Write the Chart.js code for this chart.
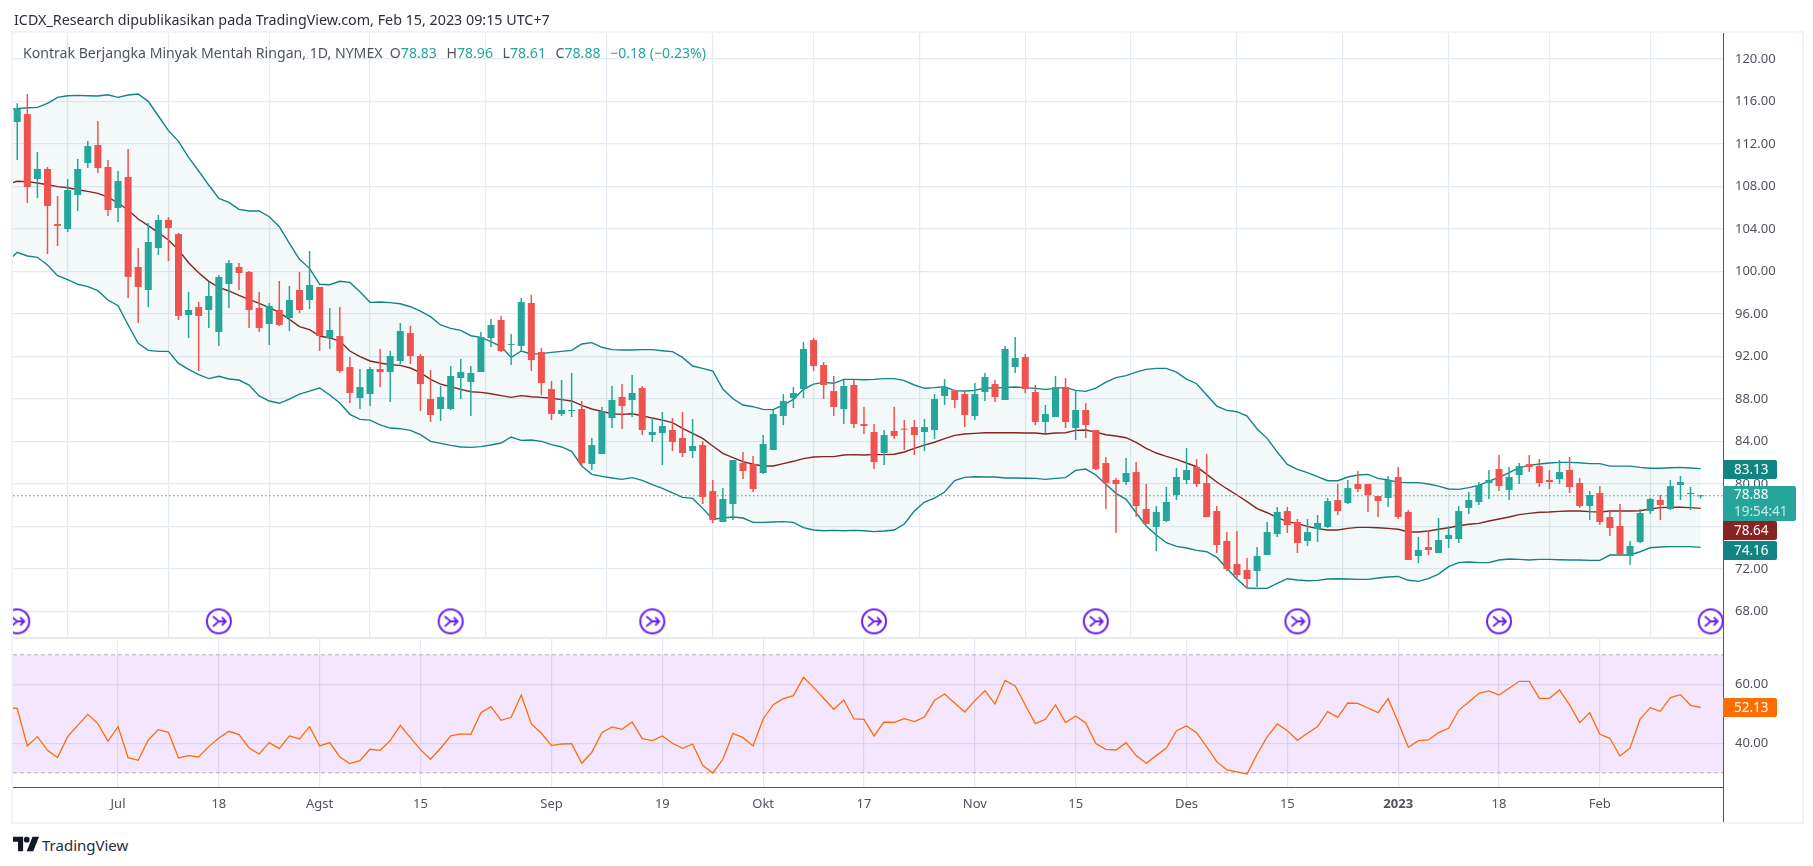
<!DOCTYPE html>
<html>
<head>
<meta charset="utf-8">
<title>Kontrak Berjangka Minyak Mentah Ringan</title>
<script src="https://cdn.jsdelivr.net/npm/chart.js@4"></script>
<style>
    html, body { margin: 0; padding: 0; background: #fff; overflow: hidden; }
    body { width: 1813px; height: 866px; position: relative; font-family: "Noto Sans", sans-serif; color: #50535e; }
    canvas { position: absolute; left: 0; }
    #myGraf { top: 0; }
    #myRsi { top: 638px; }
    .frame { position: absolute; left: 11px; top: 31px; width: 1789px; height: 789px; border: 2px solid #f0f3fa; }
    .divider { position: absolute; left: 13px; top: 637px; width: 1710px; height: 2px; background: #e6e9f0; }
    .rule { position: absolute; left: 1723px; top: 33px; width: 1px; height: 789px; background: #50535e; }
    #titre { position: absolute; left: 14px; top: 9px; font-size: 14.3px; line-height: 22px; color: #2a2e39; white-space: nowrap; }
    #legende { position: absolute; left: 23px; top: 43px; font-size: 14.1px; line-height: 20px; white-space: nowrap; }
    #legende span { color: #26a69a; margin-right: 9.6px; }
    #legende i { font-style: normal; color: #50535e; }
    .badge { position: absolute; left: 1723px; width: 54px; height: 19px; line-height: 19px; color: #fff; font-size: 13.5px; text-indent: 11px; border-radius: 0 2px 2px 0; }
    #bLast { width: 73px; height: 35px; background: #26a69a; line-height: 17px; }
    #bLast em { font-style: normal; opacity: .75; display: block; }
    #logo { position: absolute; left: 13px; top: 836px; }
    #logoTxt { position: absolute; left: 42px; top: 834px; font-size: 15px; line-height: 22px; color: #2a2e39; }
</style>
</head>
<body>
<div class="frame"></div>
<canvas id="myGraf" width="1813" height="638"></canvas>
<canvas id="myRsi" width="1813" height="184"></canvas>
<div class="divider"></div>
<div class="rule"></div>
<div id="titre">ICDX_Research dipublikasikan pada TradingView.com, Feb 15, 2023 09:15 UTC+7</div>
<div id="legende">Kontrak Berjangka Minyak Mentah Ringan, 1D, NYMEX&nbsp; <i>O</i><span>78.83</span><i>H</i><span>78.96</span><i>L</i><span>78.61</span><i>C</i><span>78.88</span><span>−0.18 (−0.23%)</span></div>
<div class="badge" style="top:460px;background:#138484">83.13</div>
<div class="badge" id="bLast" style="top:486px">78.88<em>19:54:41</em></div>
<div class="badge" style="top:521px;background:#872323">78.64</div>
<div class="badge" style="top:541px;background:#138484">74.16</div>
<div class="badge" style="top:698px;background:#ff6d00">52.13</div>
<svg id="logo" width="26" height="16" viewBox="0 0 36 20"><path d="M0 0h14v20H7V7H0z" fill="#131722"/><circle cx="19" cy="4" r="4" fill="#131722"/><path d="M27 0h9l-8 20h-9z" fill="#131722"/></svg>
<div id="logoTxt">TradingView</div>

<script>
// bougies journalieres, index 0 = premiere bougie visible
var opens = [114.05,114.80,108.69,109.63,104.45,103.98,107.18,110.19,111.89,109.82,
    105.96,108.88,100.41,98.24,102.19,104.83,103.51,95.89,96.64,96.36,
    94.29,98.81,100.41,99.94,96.55,95.04,96.36,95.61,98.24,97.30,
    98.53,93.73,93.91,90.99,88.08,88.45,90.81,90.52,91.56,94.19,
    92.03,87.98,87.04,87.04,89.96,89.58,90.52,93.72,95.42,93.07,
    92.97,97.02,92.41,88.92,86.57,86.85,87.04,81.87,82.81,86.19,
    88.17,87.89,89.02,84.60,84.78,85.07,84.31,83.09,83.65,79.32,
    76.41,78.10,81.96,81.87,81.02,83.18,86.38,88.07,88.92,93.53,
    91.18,88.73,87.04,89.30,85.63,84.88,82.90,84.97,85.16,85.35,
    84.88,85.06,88.26,88.77,88.45,86.38,88.64,89.39,87.89,91.00,
    91.93,88.64,85.82,86.29,89.11,85.25,86.95,85.06,81.96,80.36,
    80.17,81.11,77.63,75.93,76.50,78.95,80.36,81.58,80.07,77.44,
    74.62,72.45,71.89,71.79,73.30,75.27,77.44,76.40,74.62,75.75,
    75.93,78.47,78.19,79.98,79.98,78.85,78.67,80.64,77.35,73.21,
    74.05,73.49,74.81,74.81,77.73,78.29,80.08,81.39,79.42,80.83,
    81.86,81.67,80.36,80.45,81.30,80.08,77.91,79.13,76.88,76.03,
    73.21,74.52,77.44,78.48,77.63,79.89,79.04,78.83];
var highs = [115.81,116.69,111.23,109.82,107.09,108.69,110.57,112.27,114.15,110.48,
    109.44,111.51,102.19,104.55,105.30,105.11,103.61,98.05,97.11,99.00,
    99.65,101.07,100.78,100.03,98.05,97.02,99.09,98.62,99.94,101.91,
    98.53,96.55,96.64,91.94,90.81,90.99,92.69,92.50,95.14,94.85,
    92.22,90.71,89.21,91.09,91.75,91.09,94.29,95.51,95.79,94.10,
    97.49,97.77,92.78,89.68,89.77,90.43,87.80,84.31,87.23,89.21,
    89.39,90.24,89.21,86.29,86.76,86.19,86.76,86.10,84.03,80.36,
    79.61,82.24,83.00,82.62,84.59,86.95,88.45,89.11,93.35,93.72,
    91.47,90.15,89.77,89.77,87.23,85.63,85.06,87.23,86.00,86.00,
    86.10,88.45,89.86,88.83,88.73,89.49,90.43,89.77,92.97,93.82,
    92.22,89.30,87.42,90.14,89.96,88.73,87.60,85.06,82.52,80.54,
    82.43,82.05,79.98,77.91,79.70,81.49,83.37,82.33,82.80,77.91,
    75.46,75.56,73.02,74.05,76.40,77.82,77.82,76.69,76.69,77.06,
    78.66,79.98,80.36,81.20,79.98,78.85,80.74,81.58,77.54,75.00,
    75.56,76.78,76.03,77.91,79.23,80.17,81.30,82.71,81.58,81.96,
    82.71,82.34,81.30,82.24,82.52,80.55,79.32,79.79,77.44,78.10,
    74.62,77.63,78.67,78.95,80.36,80.74,79.70,78.96];
var lows = [110.48,106.43,106.90,101.63,102.38,103.70,105.68,109.72,109.25,105.21,
    104.64,97.49,95.14,96.64,101.54,100.97,95.42,93.73,90.62,94.67,
    92.97,96.55,98.24,94.67,94.29,93.07,94.86,94.38,96.08,96.45,
    92.50,92.69,90.43,87.61,87.04,87.32,89.11,87.70,91.28,91.28,
    86.85,85.82,85.91,86.95,87.98,86.38,90.52,92.88,92.41,91.18,
    92.50,90.62,88.35,86.00,86.38,86.29,81.58,81.30,82.81,85.25,
    85.16,86.29,84.60,83.94,81.77,83.09,82.52,82.43,78.10,76.31,
    76.41,76.59,80.45,79.23,80.92,83.18,85.53,87.13,88.07,90.62,
    87.98,86.38,85.63,85.25,84.69,81.39,81.77,84.22,83.18,82.71,
    83.09,84.22,87.42,87.13,85.35,86.00,87.79,87.70,87.89,90.43,
    88.54,85.53,84.78,86.29,85.25,84.12,84.31,81.30,77.63,75.37,
    79.89,76.87,76.22,73.67,76.40,78.47,79.98,79.70,76.87,73.49,
    71.79,71.13,70.19,70.29,73.30,74.99,75.37,73.49,74.15,74.52,
    75.84,77.06,78.10,79.23,77.35,76.88,77.82,76.69,72.83,72.55,
    73.30,73.49,73.96,74.43,77.16,78.01,78.57,79.32,78.48,79.98,
    81.11,79.70,79.51,79.98,79.13,77.73,76.60,76.12,75.09,73.21,
    72.36,74.43,77.16,76.60,77.54,78.48,77.54,78.61];
var closes = [115.28,107.93,109.63,106.15,104.27,107.65,109.63,111.79,109.72,105.77,
    108.50,99.47,98.53,102.76,104.83,104.08,95.80,96.36,95.80,97.68,
    99.47,100.78,99.84,96.36,94.67,96.74,94.95,97.30,96.36,98.71,
    93.91,94.48,90.62,88.55,89.11,90.81,90.52,92.03,94.38,92.03,
    89.39,86.48,88.17,90.15,90.52,90.43,93.82,94.95,92.50,93.16,
    97.11,91.65,89.49,86.57,86.95,86.95,81.96,83.65,86.85,87.89,
    87.32,88.55,85.07,84.88,85.44,83.94,82.90,83.56,78.76,76.59,
    78.57,82.24,81.21,79.51,83.75,86.57,87.79,88.54,92.69,91.09,
    89.30,87.23,89.21,85.63,85.44,82.05,84.59,84.50,85.10,84.59,
    85.35,87.98,89.11,87.89,86.48,88.45,90.05,88.17,92.69,91.84,
    88.92,85.82,86.57,89.11,85.82,86.95,85.53,81.39,80.07,79.98,
    81.02,77.91,76.22,77.35,78.29,80.64,81.30,79.98,76.87,74.24,
    71.98,71.42,71.04,73.20,75.46,77.35,76.12,74.43,75.46,76.31,
    78.38,77.44,79.60,79.51,78.95,78.38,80.36,76.88,72.83,73.77,
    73.77,74.71,75.18,77.44,78.48,79.89,80.36,79.79,80.64,81.67,
    81.58,80.08,80.17,81.11,79.70,77.91,78.95,76.41,75.84,73.39,
    74.15,77.25,78.57,78.01,79.79,80.17,79.13,78.88];

// bollinger et rsi : le premier point est celui d'avant la premiere bougie (index -1)
var bbUpper = [115.25,115.31,115.40,115.43,115.81,116.37,116.53,116.56,116.53,116.50,116.62,
    116.37,116.59,116.69,116.00,114.62,113.24,112.23,110.73,109.44,108.12,
    106.87,106.49,105.83,105.68,105.68,105.14,104.20,102.63,101.13,100.28,
    98.78,98.74,99.06,98.96,98.08,97.08,97.11,97.05,96.95,96.67,
    96.26,95.73,94.95,94.63,94.45,93.94,93.79,93.38,92.91,91.90,
    92.50,92.22,92.25,92.37,92.47,92.56,93.16,93.29,92.85,92.63,
    92.59,92.59,92.63,92.63,92.53,92.44,91.90,91.09,90.87,90.62,
    88.92,88.01,87.42,87.26,87.01,86.98,87.42,87.95,88.89,89.39,
    89.55,89.46,89.83,89.83,89.80,89.83,89.90,89.90,89.71,89.30,
    88.99,89.05,89.14,88.77,88.73,88.80,89.02,89.02,89.08,89.11,
    89.05,88.98,88.89,88.98,89.08,88.80,88.70,89.01,89.58,89.99,
    90.18,90.52,90.77,90.87,90.87,90.52,89.86,89.42,88.36,87.32,
    86.91,86.79,86.38,85.16,84.28,82.99,81.83,81.36,81.05,80.67,
    80.29,80.29,80.64,80.83,80.89,80.51,80.36,80.14,80.11,80.11,
    79.98,79.79,79.51,79.48,79.64,79.86,80.26,80.61,81.05,81.52,
    81.74,81.86,81.96,82.02,82.02,81.99,81.90,81.90,81.67,81.67,
    81.67,81.55,81.46,81.46,81.52,81.55,81.49,81.43];
var bbMid = [108.20,108.47,108.44,108.31,108.15,107.97,107.87,107.68,107.53,107.34,106.99,
    106.43,105.77,104.92,104.30,103.64,102.95,102.01,100.81,99.87,99.06,
    98.49,98.15,97.74,97.36,96.99,96.58,96.14,95.48,94.79,94.51,
    93.91,93.73,93.44,92.50,91.97,91.56,91.37,91.21,91.15,90.90,
    90.46,89.83,89.39,89.14,88.89,88.67,88.61,88.48,88.30,88.14,
    88.30,88.20,88.14,88.05,87.92,87.80,87.39,87.04,86.82,86.60,
    86.54,86.60,86.41,86.19,86.00,85.76,85.22,84.75,84.28,83.56,
    82.87,82.46,82.09,81.84,81.68,81.68,81.90,82.12,82.37,82.53,
    82.56,82.56,82.71,82.75,82.71,82.75,82.75,82.78,83.00,83.34,
    83.65,83.91,84.25,84.56,84.69,84.75,84.81,84.81,84.81,84.81,
    84.78,84.78,84.69,84.78,84.81,85.03,85.06,84.87,84.62,84.50,
    84.34,83.90,83.34,82.90,82.58,82.30,81.96,81.61,80.89,80.17,
    79.54,78.95,78.32,77.66,77.28,76.81,76.44,76.25,76.00,75.78,
    75.65,75.65,75.81,75.90,75.90,75.87,75.81,75.72,75.47,75.47,
    75.56,75.72,75.87,76.06,76.19,76.28,76.50,76.69,76.88,77.10,
    77.22,77.32,77.35,77.41,77.44,77.44,77.38,77.35,77.44,77.44,
    77.44,77.47,77.63,77.76,77.79,77.79,77.76,77.69];
var bbLower = [100.90,101.79,101.44,101.32,100.60,99.59,99.21,98.78,98.56,98.18,97.30,
    96.77,94.95,93.22,92.56,92.47,92.47,91.34,90.78,90.27,89.90,
    90.12,89.87,89.77,89.30,88.27,87.79,87.58,87.98,88.45,88.73,
    89.02,88.36,87.60,86.54,86.07,86.00,85.54,85.25,85.19,85.03,
    84.63,84.00,83.81,83.62,83.47,83.43,83.50,83.65,83.84,84.41,
    84.09,84.12,84.00,83.69,83.47,83.06,81.68,80.89,80.70,80.55,
    80.42,80.58,80.33,79.92,79.58,79.14,78.73,78.63,77.69,76.66,
    76.78,76.88,76.78,76.37,76.37,76.41,76.44,76.37,75.87,75.65,
    75.59,75.62,75.59,75.62,75.59,75.50,75.56,75.65,76.22,77.44,
    78.29,78.66,79.23,80.30,80.61,80.67,80.64,80.64,80.55,80.55,
    80.52,80.51,80.42,80.51,80.58,81.27,81.39,80.83,79.95,79.10,
    78.54,77.28,76.03,75.18,74.46,74.11,73.96,73.74,73.61,73.08,
    72.04,71.04,70.19,70.16,70.16,70.63,71.07,70.95,70.88,70.91,
    71.04,71.07,71.04,71.01,71.01,71.14,71.23,71.29,70.92,70.82,
    71.07,71.51,72.20,72.58,72.64,72.58,72.58,72.83,72.92,72.89,
    72.83,72.89,72.89,72.86,72.83,72.83,72.80,72.80,73.30,73.30,
    73.30,73.61,73.99,74.05,74.09,74.09,74.09,74.02];
var rsiValues = [52.10,51.85,39.09,42.25,37.62,35.13,42.25,46.09,49.82,46.66,40.67,
    45.64,35.13,34.23,41.12,44.62,43.72,35.02,35.81,35.36,38.86,
    41.80,44.06,42.93,38.41,36.37,40.22,38.18,42.48,41.46,45.64,
    39.09,40.22,35.36,33.10,34.11,37.96,37.62,40.89,46.09,41.91,
    37.84,34.57,38.30,42.48,43.16,43.04,50.39,52.42,47.79,48.80,
    56.37,46.54,43.38,39.20,39.76,39.88,33.21,36.94,43.61,45.53,
    44.74,47.22,41.57,40.89,42.48,39.99,38.30,39.76,32.53,29.93,
    34.57,43.38,41.91,39.09,48.24,53.10,55.13,56.15,62.36,58.97,
    55.25,51.52,54.68,48.24,48.13,42.48,47.22,47.11,48.35,47.34,
    48.92,54.57,56.71,53.66,50.61,54.45,57.84,53.32,61.35,59.43,
    52.99,46.66,48.13,52.99,47.00,49.26,46.88,39.88,37.96,37.73,
    40.22,35.81,33.21,35.81,38.41,44.28,45.87,43.61,38.75,33.77,
    30.95,30.27,29.59,36.26,42.14,46.54,44.28,41.01,43.38,45.64,
    50.72,48.80,53.66,53.55,51.97,50.39,55.13,47.11,38.63,40.89,
    41.12,43.61,45.07,51.18,54.00,56.94,57.73,56.37,58.63,61.01,
    61.01,55.25,55.25,58.07,52.99,47.00,50.39,43.04,41.69,35.70,
    38.41,48.24,52.08,50.84,55.47,56.49,52.87,52.13];

// axes
var priceTicks = [120,116,112,108,104,100,96,92,88,84,80,76,72,68];
var rsiTicks = [60,40];
var rsiBandTop = 70;
var rsiBandBottom = 30;
var lastClose = 78.88;
var timeIndex = [10,20,30,40,53,64,74,84,95,105,116,126,137,147,157];
var timeLabels = ['Jul','18','Agst','15','Sep','19','Okt','17','Nov','15','Des','15','2023','18','Feb'];

// evenements (cercles violets)
var eventIndex = [0,20,43,63,85,107,127,147,168];
var eventLevel = 67.06;

var xMin = -0.42, xMax = 169.22;
var priceMin = 65.49, priceMax = 122.43;
var rsiMin = 25.0, rsiMax = 75.7;

var red = '#ef5350', green = '#26a69a', bandColor = '#138484', midColor = '#872323', gridColor = '#e3eaf1';

function toPoints(values) {
    return values.map(function(v, i) { return {x: i - 1, y: v}; });
}

function flatLine(value) {
    return [{x: xMin, y: value}, {x: xMax, y: value}];
}

function eventIcon() {
    var c = document.createElement('canvas');
    c.width = 28; c.height = 28;
    var g = c.getContext('2d');
    g.strokeStyle = '#6a1ff5';
    g.lineWidth = 2;
    g.beginPath(); g.arc(14, 14, 12, 0, Math.PI * 2);
    g.fillStyle = '#fff'; g.fill(); g.stroke();
    g.lineWidth = 1.8;
    g.beginPath();
    g.moveTo(8, 9); g.lineTo(14, 14); g.lineTo(8, 19);
    g.moveTo(14, 14); g.lineTo(21, 14);
    g.moveTo(17, 10); g.lineTo(21, 14); g.lineTo(17, 18);
    g.stroke();
    return c;
}

function xAxis(showLabels) {
    return {
        type: 'linear', min: xMin, max: xMax, offset: false,
        grid: {color: gridColor, lineWidth: 1.2, drawTicks: false},
        border: {display: showLabels, color: '#50535e', width: 1},
        afterBuildTicks: function(scale) {
            scale.ticks = timeIndex.map(function(v) { return {value: v}; });
        },
        afterFit: function(scale) {
            scale.height = showLabels ? 34.5 : 0;
            scale.paddingLeft = 0;
            scale.paddingRight = 0;
        },
        ticks: {
            display: showLabels, autoSkip: false, maxRotation: 0, padding: 9, color: '#50535e',
            font: function(ctx) {
                var isYear = ctx.tick && timeLabels[timeIndex.indexOf(ctx.tick.value)] === '2023';
                return {family: 'Noto Sans', size: 13, weight: isYear ? 'bold' : 'normal'};
            },
            callback: function(value) { return timeLabels[timeIndex.indexOf(value)]; }
        }
    };
}

function yAxis(min, max, tickValues) {
    return {
        type: 'linear', position: 'right', min: min, max: max,
        grid: {color: gridColor, lineWidth: 1.2, drawTicks: false},
        border: {display: false},
        afterBuildTicks: function(scale) {
            scale.ticks = tickValues.map(function(v) { return {value: v}; });
        },
        afterFit: function(scale) {
            // sinon la zone du graphe perd la marge des labels
            scale.width = 90;
            scale.paddingTop = 0;
            scale.paddingBottom = 0;
        },
        ticks: {
            autoSkip: false, padding: 12, color: '#50535e',
            font: {family: 'Noto Sans', size: 13},
            callback: function(value) { return value.toFixed(2); }
        }
    };
}

var commonOptions = {
    responsive: false,
    animation: false,
    events: [],
    plugins: {legend: {display: false}, tooltip: {enabled: false}}
};

function candleColors() {
    return closes.map(function(c, i) { return c >= opens[i] ? green : red; });
}

var myGraf = new Chart(document.getElementById('myGraf').getContext('2d'), {
    type: 'bar',
    data: {
        datasets: [{
            label: 'Corps',
            data: opens.map(function(o, i) { return {x: i, y: [o, closes[i]]}; }),
            backgroundColor: candleColors(),
            barThickness: 7, grouped: false, inflateAmount: 0, minBarLength: 1, order: 1
        }, {
            label: 'Meches',
            data: highs.map(function(h, i) { return {x: i, y: [lows[i], h]}; }),
            backgroundColor: candleColors(),
            barThickness: 1.5, grouped: false, inflateAmount: 0, order: 2
        }, {
            type: 'line', label: 'Bande haute', data: toPoints(bbUpper),
            borderColor: bandColor, borderWidth: 1.4, pointRadius: 0, tension: 0,
            fill: {target: 4}, backgroundColor: 'rgba(19,132,132,0.05)', order: 5
        }, {
            type: 'line', label: 'Moyenne', data: toPoints(bbMid),
            borderColor: midColor, borderWidth: 1.4, pointRadius: 0, tension: 0, fill: false, order: 4
        }, {
            type: 'line', label: 'Bande basse', data: toPoints(bbLower),
            borderColor: bandColor, borderWidth: 1.4, pointRadius: 0, tension: 0, fill: false, order: 6
        }, {
            type: 'line', label: 'Dernier', data: flatLine(lastClose),
            borderColor: green, borderWidth: 1.2, borderDash: [1.5, 2.5], pointRadius: 0, fill: false, order: 3
        }, {
            type: 'line', label: 'Evenements',
            data: eventIndex.map(function(i) { return {x: i, y: eventLevel}; }),
            showLine: false, pointStyle: eventIcon(), pointRadius: 14, order: 0
        }]
    },
    options: Object.assign({}, commonOptions, {
        layout: {autoPadding: false, padding: {left: 13, top: 33, right: 0, bottom: 0}},
        scales: {x: xAxis(false), y: yAxis(priceMin, priceMax, priceTicks)}
    })
});

var myRsi = new Chart(document.getElementById('myRsi').getContext('2d'), {
    type: 'line',
    data: {
        datasets: [{
            label: 'RSI', data: toPoints(rsiValues),
            borderColor: '#ff6d00', borderWidth: 1.3, pointRadius: 0, tension: 0, fill: false, order: 0
        }, {
            label: 'Haut', data: flatLine(rsiBandTop),
            borderColor: '#b8a8c4', borderWidth: 1, borderDash: [4, 3], pointRadius: 0,
            fill: {target: 2}, backgroundColor: 'rgba(156,39,245,0.115)', order: 2
        }, {
            label: 'Bas', data: flatLine(rsiBandBottom),
            borderColor: '#b8a8c4', borderWidth: 1, borderDash: [4, 3], pointRadius: 0, fill: false, order: 1
        }]
    },
    options: Object.assign({}, commonOptions, {
        layout: {autoPadding: false, padding: {left: 13, top: 0, right: 0, bottom: 0}},
        scales: {x: xAxis(true), y: yAxis(rsiMin, rsiMax, rsiTicks)}
    })
});
</script>
</body>
</html>
